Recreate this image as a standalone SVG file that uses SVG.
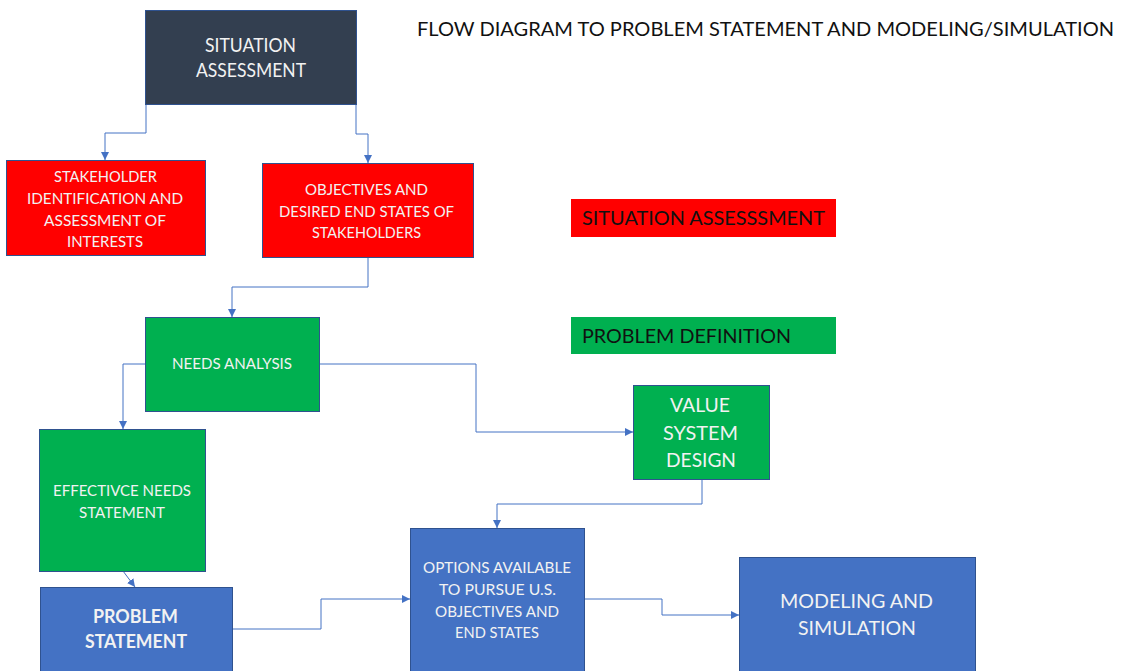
<svg xmlns="http://www.w3.org/2000/svg" width="1121" height="671" viewBox="0 0 1121 671">
  <style>
    .box { stroke: #2F528F; stroke-width: 1; }
    .dark { fill: #333F50; }
    .red { fill: #FF0000; }
    .green { fill: #00B050; }
    .blue { fill: #4472C4; }
    text { font-family: Lato, "Open Sans", "Liberation Sans", sans-serif; }
    .lbl { fill: #F2F2F2; text-anchor: middle; font-size: 15px; }
    .big { fill: #F2F2F2; text-anchor: middle; font-size: 20px; }
    .bold { font-weight: bold; font-size: 18px; }
    .key { fill: #111111; font-size: 20px; }
    .wire { fill: none; stroke: #4472C4; stroke-width: 1; marker-end: url(#arrow); }
  </style>
  <defs>
    <marker id="arrow" viewBox="0 0 8 8" refX="8" refY="4" markerWidth="8" markerHeight="8" markerUnits="userSpaceOnUse" orient="auto">
      <path d="M0,0 L8,4 L0,8 Z" fill="#4472C4"/>
    </marker>
  </defs>

  <rect width="1121" height="671" fill="#FFFFFF"/>

  <text class="key" x="417" y="36" textLength="697" lengthAdjust="spacingAndGlyphs">FLOW DIAGRAM TO PROBLEM STATEMENT AND MODELING/SIMULATION</text>

  <g id="connectors">
    <path class="wire" d="M146,104 V133 H105 V160"/>
    <path class="wire" d="M356,104 V134 H368 V163"/>
    <path class="wire" d="M368,257 V287 H232 V317"/>
    <path class="wire" d="M145,364 H123 V429"/>
    <path class="wire" d="M319,364 H476 V432 H633"/>
    <path class="wire" d="M123,571 L135,587"/>
    <path class="wire" d="M232,629 H321 V599 H410"/>
    <path class="wire" d="M702,479 V504 H497 V528"/>
    <path class="wire" d="M584,599 H662 V615 H739"/>
  </g>

  <g id="situation-assessment">
    <rect class="box dark" x="145.5" y="10.5" width="211" height="94"/>
    <text class="big" x="250.5" y="52" font-size="19" textLength="91" lengthAdjust="spacingAndGlyphs">SITUATION</text>
    <text class="big" x="251" y="77" font-size="19" textLength="110" lengthAdjust="spacingAndGlyphs">ASSESSMENT</text>
  </g>

  <g id="stakeholder-identification">
    <rect class="box red" x="6.5" y="160.5" width="199" height="95"/>
    <text class="lbl" x="105.5" y="182" textLength="103" lengthAdjust="spacingAndGlyphs">STAKEHOLDER</text>
    <text class="lbl" x="105" y="203.5" textLength="156" lengthAdjust="spacingAndGlyphs">IDENTIFICATION  AND</text>
    <text class="lbl" x="105" y="225.5" textLength="122" lengthAdjust="spacingAndGlyphs">ASSESSMENT OF</text>
    <text class="lbl" x="105" y="247" textLength="76" lengthAdjust="spacingAndGlyphs">INTERESTS</text>
  </g>

  <g id="objectives">
    <rect class="box red" x="262.5" y="163.5" width="211" height="94"/>
    <text class="lbl" x="366.5" y="195" textLength="123" lengthAdjust="spacingAndGlyphs">OBJECTIVES AND</text>
    <text class="lbl" x="366.5" y="217" textLength="175" lengthAdjust="spacingAndGlyphs">DESIRED END STATES OF</text>
    <text class="lbl" x="366.5" y="238" textLength="109" lengthAdjust="spacingAndGlyphs">STAKEHOLDERS</text>
  </g>

  <g id="needs-analysis">
    <rect class="box green" x="145.5" y="317.5" width="174" height="94"/>
    <text class="lbl" x="232" y="369" textLength="120" lengthAdjust="spacingAndGlyphs">NEEDS ANALYSIS</text>
  </g>

  <g id="effective-needs">
    <rect class="box green" x="39.5" y="429.5" width="166" height="142"/>
    <text class="lbl" x="122" y="496" textLength="138" lengthAdjust="spacingAndGlyphs">EFFECTIVCE NEEDS</text>
    <text class="lbl" x="122" y="518" textLength="86" lengthAdjust="spacingAndGlyphs">STATEMENT</text>
  </g>

  <g id="problem-statement">
    <rect class="box blue" x="40.5" y="587.5" width="192" height="90"/>
    <text class="big bold" x="135.5" y="623" textLength="85" lengthAdjust="spacingAndGlyphs">PROBLEM</text>
    <text class="big bold" x="136" y="648" textLength="102" lengthAdjust="spacingAndGlyphs">STATEMENT</text>
  </g>

  <g id="value-system-design">
    <rect class="box green" x="633.5" y="385.5" width="136" height="94"/>
    <text class="big" x="700" y="412" textLength="60" lengthAdjust="spacingAndGlyphs">VALUE</text>
    <text class="big" x="700.5" y="440" textLength="75" lengthAdjust="spacingAndGlyphs">SYSTEM</text>
    <text class="big" x="701" y="467" textLength="70" lengthAdjust="spacingAndGlyphs">DESIGN</text>
  </g>

  <g id="options">
    <rect class="box blue" x="410.5" y="528.5" width="174" height="150"/>
    <text class="lbl" x="497" y="573" textLength="148" lengthAdjust="spacingAndGlyphs">OPTIONS AVAILABLE</text>
    <text class="lbl" x="497.5" y="595" textLength="117" lengthAdjust="spacingAndGlyphs">TO PURSUE U.S.</text>
    <text class="lbl" x="497" y="617" textLength="124" lengthAdjust="spacingAndGlyphs">OBJECTIVES AND</text>
    <text class="lbl" x="497" y="638" textLength="84" lengthAdjust="spacingAndGlyphs">END STATES</text>
  </g>

  <g id="modeling-simulation">
    <rect class="box blue" x="739.5" y="557.5" width="236" height="120"/>
    <text class="big" x="856.5" y="608" textLength="153" lengthAdjust="spacingAndGlyphs">MODELING AND</text>
    <text class="big" x="857" y="635" textLength="118" lengthAdjust="spacingAndGlyphs">SIMULATION</text>
  </g>

  <g id="legend-situation">
    <rect class="red" x="571" y="199" width="265" height="38"/>
    <text class="key" x="582" y="225" textLength="243" lengthAdjust="spacingAndGlyphs">SITUATION ASSESSSMENT</text>
  </g>

  <g id="legend-problem">
    <rect class="green" x="571" y="317" width="265" height="37"/>
    <text class="key" x="582" y="343" textLength="209" lengthAdjust="spacingAndGlyphs">PROBLEM DEFINITION</text>
  </g>
</svg>
